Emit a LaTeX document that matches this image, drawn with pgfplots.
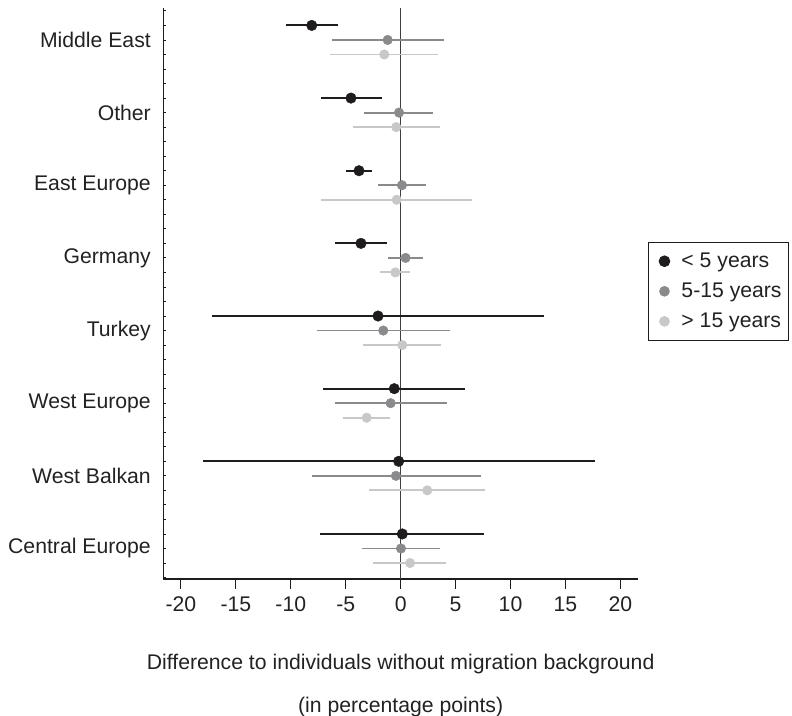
\documentclass[border=0pt]{standalone}
\usepackage{fontspec}
\setmainfont{Liberation Sans}
\usepackage{pgfplots}
\usepackage{pgfplotstable}
\pgfplotsset{compat=1.18}
\definecolor{cA}{HTML}{1F1C1D}
\definecolor{cB}{HTML}{8A8A8C}
\definecolor{cC}{HTML}{C8C8C8}
\definecolor{txt}{HTML}{222222}
\newcommand\fs{\fontsize{21.2bp}{25bp}\selectfont}

\pgfplotstableread{
y x lo hi
38 -8.09 -10.43 -5.73
33 -4.52 -7.25 -1.73
28 -3.79 -4.94 -2.64
23 -3.61 -5.94 -1.21
18 -2.06 -17.18 13.06
13 -0.58 -7.03 5.88
8 -0.18 -18.03 17.66
3 0.15 -7.30 7.57
}\tA
\pgfplotstableread{
y x lo hi
37 -1.18 -6.27 3.94
32 -0.15 -3.30 2.97
27 0.12 -2.03 2.30
22 0.45 -1.12 2.00
17 -1.58 -7.64 4.51
12 -0.91 -5.94 4.21
7 -0.43 -8.03 7.27
2 0.03 -3.49 3.54
}\tB
\pgfplotstableread{
y x lo hi
36 -1.49 -6.40 3.42
31 -0.40 -4.30 3.57
26 -0.36 -7.25 6.51
21 -0.48 -1.85 0.88
16 0.15 -3.40 3.64
11 -3.09 -5.21 -0.94
6 2.42 -2.85 7.72
1 0.85 -2.48 4.15
}\tC

\begin{document}
\begin{tikzpicture}
\path[use as bounding box] (0,0) rectangle (792bp,716bp);
\begin{axis}[
  at={(163.3bp,137bp)}, anchor=south west,
  scale only axis, width=474.7bp, height=571bp,
  xmin=-21.6, xmax=21.6, ymin=-0.1, ymax=39.2,
  axis x line*=bottom, axis y line*=left,
  axis line style={-, line width=1.2bp, color=cA},
  xtick={-20,-15,...,20},
  x tick style={line width=1.2bp, color=cA},
  xtick align=outside, major tick length=3bp, minor tick length=3bp,
  ytick={2,7,...,37},
  yticklabels={Central Europe,West Balkan,West Europe,Turkey,Germany,East Europe,Other,Middle East},
  minor ytick={0,...,39},
  y tick style={line width=0.8bp, color=cA},
  ytick align=inside,
  tick label style={font=\fs, color=txt},
  /pgf/number format/assume math mode=true,
  xticklabel style={yshift=-11bp},
  yticklabel style={xshift=-9bp},
  xlabel={Difference to individuals without migration background\\[18bp](in percentage points)},
  xlabel style={font=\fs, color=txt, align=center, at={(axis description cs:0.5,0)}, anchor=north, yshift=-72bp},
  legend style={at={(rel axis cs:1.021,0.5907)}, anchor=north west,
    font=\fs, draw=cA, line width=1bp, inner xsep=5bp, inner ysep=9bp, row sep=10bp, text=txt},
  legend cell align=left,
  legend image code/.code={\path[draw=none,fill=none] (0,0) rectangle (26bp,0); \draw[#1] plot coordinates {(11bp,0bp)};},
  clip=false,
]
\pgfplotsinvokeforeach{-20,-15,-10,-5,0,5,10,15,20}{
  \draw[line width=1.2bp, color=cA] (axis cs:#1,-0.1) -- ([yshift=-10bp]axis cs:#1,-0.1);
}
\addplot[color=cA!85, line width=1.5bp, forget plot] coordinates {(0,-0.1) (0,39.2)};
\addplot[only marks, mark=*, mark size=5.3bp, color=cA,
  error bars/.cd, x dir=both, x explicit, error mark=none,
  error bar style={line width=2.1bp, color=cA}]
  table[x=x, y=y, x error plus expr=\thisrow{hi}-\thisrow{x}, x error minus expr=\thisrow{x}-\thisrow{lo}] {\tA};
\addlegendentry{< 5 years}
\addplot[only marks, mark=*, mark size=4.8bp, color=cB,
  error bars/.cd, x dir=both, x explicit, error mark=none,
  error bar style={line width=1.9bp, color=cB}]
  table[x=x, y=y, x error plus expr=\thisrow{hi}-\thisrow{x}, x error minus expr=\thisrow{x}-\thisrow{lo}] {\tB};
\addlegendentry{5-15 years}
\addplot[only marks, mark=*, mark size=4.8bp, color=cC,
  error bars/.cd, x dir=both, x explicit, error mark=none,
  error bar style={line width=1.9bp, color=cC}]
  table[x=x, y=y, x error plus expr=\thisrow{hi}-\thisrow{x}, x error minus expr=\thisrow{x}-\thisrow{lo}] {\tC};
\addlegendentry{> 15 years}
\end{axis}
\end{tikzpicture}
\end{document}
